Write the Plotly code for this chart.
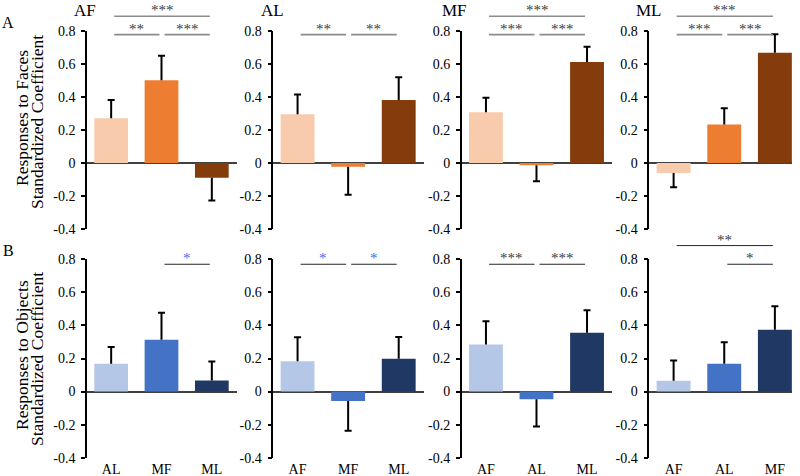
import plotly.graph_objects as go

# ---------------- data ----------------
panel_titles = ["AF", "AL", "MF", "ML"]
categories = [["AL", "MF", "ML"], ["AF", "MF", "ML"], ["AF", "AL", "ML"], ["AF", "AL", "MF"]]

faces_values = [[0.27, 0.50, -0.09], [0.295, -0.024, 0.38], [0.307, -0.014, 0.61], [-0.061, 0.232, 0.667]]
faces_errors = [[0.11, 0.148, 0.138], [0.119, 0.168, 0.139], [0.087, 0.097, 0.093], [0.086, 0.099, 0.111]]

objects_values = [[0.168, 0.314, 0.067], [0.184, -0.057, 0.198], [0.285, -0.047, 0.356], [0.065, 0.168, 0.374]]
objects_errors = [[0.101, 0.162, 0.115], [0.144, 0.18, 0.132], [0.14, 0.164, 0.136], [0.123, 0.13, 0.142]]

# significance brackets: (from, to, level, label, star colour)
faces_sig = [
    [(0, 2, "high", "***", "dark"), (0, 1, "low", "**", "dark"), (1, 2, "low", "***", "dark")],
    [(0, 1, "low", "**", "dark"), (1, 2, "low", "**", "dark")],
    [(0, 2, "high", "***", "dark"), (0, 1, "low", "***", "dark"), (1, 2, "low", "***", "dark")],
    [(0, 2, "high", "***", "dark"), (0, 1, "low", "***", "dark"), (1, 2, "low", "***", "dark")],
]
objects_sig = [
    [(1, 2, "low", "*", "blue")],
    [(0, 1, "low", "*", "blue"), (1, 2, "low", "*", "blue")],
    [(0, 1, "low", "***", "dark"), (1, 2, "low", "***", "dark")],
    [(0, 2, "high", "**", "dark"), (1, 2, "low", "*", "dark")],
]

y_ticks = [-0.4, -0.2, 0, 0.2, 0.4, 0.6, 0.8]
y_tick_text = ["-0.4", "-0.2", "0", "0.2", "0.4", "0.6", "0.8"]

faces_colors = ["#F8CBAD", "#ED7D31", "#843C0C"]
objects_colors = ["#B4C7E7", "#4472C4", "#203864"]

# ---------------- layout helpers ----------------
W, H = 800, 476
FONT = "Liberation Serif"
Y_RANGE = [-0.4, 0.8]


def fx(p):
    return p / W


def fy(p):
    return 1 - p / H


x_dom_px = [(87, 237), (273.3, 424), (461.7, 612.3), (649.3, 792)]
x_ranges = [[-0.48, 2.5], [-0.48, 2.5], [-0.48, 2.5], [-0.48, 2.338]]
y_dom_px = [(30.7, 229), (259.3, 457.7)]

fig = go.Figure()
layout = dict(
    width=W, height=H,
    margin=dict(l=0, r=0, t=0, b=0, autoexpand=False),
    paper_bgcolor="white", plot_bgcolor="white",
    showlegend=False,
    font=dict(family=FONT, color="black", size=14),
)
shapes = []
annotations = []

rows = [
    (faces_values, faces_errors, faces_colors, faces_sig, {"low": 0.776, "high": 0.887}, "#8C8C8C", 1.6),
    (objects_values, objects_errors, objects_colors, objects_sig, {"low": 0.770, "high": 0.883}, "#262626", 1.0),
]

for r, (vals, errs, cols, sigs, levels, line_col, line_w) in enumerate(rows):
    for p in range(4):
        n = r * 4 + p + 1
        xa = "x" if n == 1 else f"x{n}"
        ya = "y" if n == 1 else f"y{n}"
        xkey = "xaxis" if n == 1 else f"xaxis{n}"
        ykey = "yaxis" if n == 1 else f"yaxis{n}"
        v = vals[p]
        e = errs[p]
        xs = [0, 1, 2]
        fig.add_trace(go.Bar(
            x=xs, y=v, width=0.67, xaxis=xa, yaxis=ya,
            marker=dict(color=cols, line=dict(width=0)),
            error_y=dict(
                type="data", symmetric=False,
                array=[ei if vi >= 0 else 0 for vi, ei in zip(v, e)],
                arrayminus=[0 if vi >= 0 else ei for vi, ei in zip(v, e)],
                width=0, thickness=2, color="black",
            ),
            hoverinfo="skip",
        ))
        # caps at error-bar ends
        fig.add_trace(go.Scatter(
            x=xs, y=[vi + ei if vi >= 0 else vi - ei for vi, ei in zip(v, e)],
            xaxis=xa, yaxis=ya, mode="markers",
            marker=dict(symbol="line-ew", size=5, line=dict(width=2, color="black")),
            hoverinfo="skip",
        ))
        layout[xkey] = dict(
            domain=[fx(x_dom_px[p][0]), fx(x_dom_px[p][1])],
            range=x_ranges[p], anchor=ya,
            showgrid=False, zeroline=False, showline=False, ticks="",
            tickvals=xs, ticktext=categories[p],
            showticklabels=(r == 1),
            tickfont=dict(family=FONT, size=14),
            ticklabelstandoff=1,
            automargin=False, fixedrange=True,
        )
        layout[ykey] = dict(
            domain=[fy(y_dom_px[r][1]), fy(y_dom_px[r][0])],
            range=Y_RANGE, anchor=xa,
            tickvals=y_ticks, ticktext=y_tick_text,
            showgrid=False, showline=True, linecolor="black", linewidth=1.5,
            ticks="outside", ticklen=4, tickwidth=1.5, tickcolor="black",
            zeroline=True, zerolinecolor="#404040", zerolinewidth=1.5,
            tickfont=dict(family=FONT, size=14),
            ticklabelstandoff=3,
            automargin=False, fixedrange=True,
        )
        # significance brackets (placed in axis-domain units so they are not clipped)
        xr = x_ranges[p]

        def xd(val):
            return (val - xr[0]) / (xr[1] - xr[0])

        def yd(val):
            return (val - Y_RANGE[0]) / (Y_RANGE[1] - Y_RANGE[0])

        for (i, j, lev, label, scol) in sigs[p]:
            x0 = i + 0.06
            x1 = j - 0.04
            yl = levels[lev]
            shapes.append(dict(type="line", xref=f"{xa} domain", yref=f"{ya} domain",
                               x0=xd(x0), x1=xd(x1), y0=yd(yl), y1=yd(yl),
                               line=dict(color=line_col, width=line_w)))
            annotations.append(dict(
                x=xd((x0 + x1) / 2), y=yd(yl), xref=f"{xa} domain", yref=f"{ya} domain",
                text=label, showarrow=False,
                yanchor="bottom", xanchor="center", yshift=-4,
                font=dict(family=FONT, size=15, color=("#3D6BF5" if scol == "blue" else "#404040")),
            ))

# panel titles
title_x_px = [84.5, 272, 454, 648.5]
for p, t in enumerate(panel_titles):
    annotations.append(dict(x=fx(title_x_px[p]), y=fy(10), xref="paper", yref="paper", text=t,
                            showarrow=False, xanchor="center", yanchor="middle",
                            font=dict(family=FONT, size=17)))

# row letters
annotations.append(dict(x=fx(8), y=fy(22), xref="paper", yref="paper", text="A", showarrow=False,
                        xanchor="center", yanchor="middle", font=dict(family=FONT, size=16)))
annotations.append(dict(x=fx(8), y=fy(250), xref="paper", yref="paper", text="B", showarrow=False,
                        xanchor="center", yanchor="middle", font=dict(family=FONT, size=16)))

# y-axis titles
for (l1, yc) in [("Responses to Faces", 118), ("Responses to Objects", 355)]:
    annotations.append(dict(x=fx(22), y=fy(yc), xref="paper", yref="paper", text=l1, textangle=-90,
                            showarrow=False, xanchor="center", yanchor="middle",
                            font=dict(family=FONT, size=17.5)))
    annotations.append(dict(x=fx(37), y=fy(yc + 4), xref="paper", yref="paper",
                            text="Standardized Coefficient", textangle=-90,
                            showarrow=False, xanchor="center", yanchor="middle",
                            font=dict(family=FONT, size=17.5)))

layout["shapes"] = shapes
layout["annotations"] = annotations
fig.update_layout(**layout)
fig.write_html("out.html", config={"displayModeBar": False},
               post_script="document.body.style.margin='0';")
